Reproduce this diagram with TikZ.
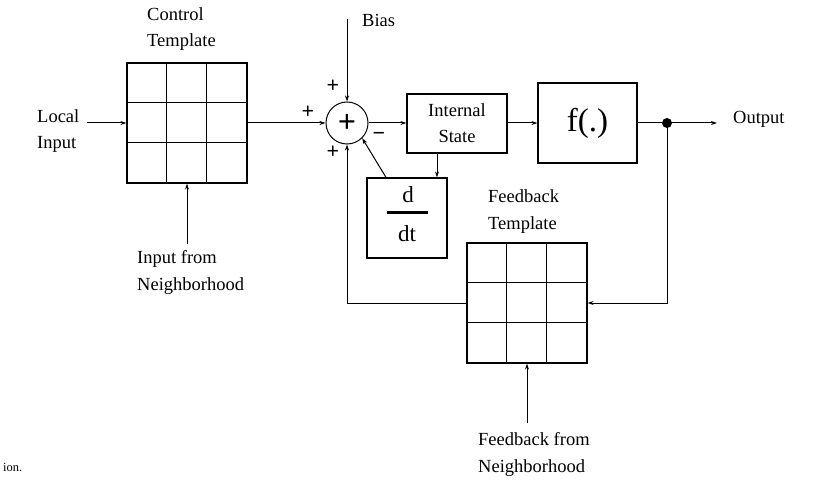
\documentclass[tikz,border=0pt]{standalone}
\usepackage{fontspec}
\setmainfont{Liberation Serif}
\usetikzlibrary{arrows.meta,calc}
\begin{document}
\begin{tikzpicture}[x=1pt,y=-1pt,
  lbl/.style={inner sep=0pt,font=\fontsize{18.5}{22}\selectfont},
  sgn/.style={inner sep=0pt,font=\bfseries\fontsize{22}{24}\selectfont},
  conn/.style={line width=1pt,-{Stealth[length=6pt,width=4pt]}},
  plain/.style={line width=1pt},
  blk/.style={draw,line width=1.2pt,inner sep=0pt},
  tmpl/.style={draw,line width=1.3pt,minimum width=120pt,minimum height=120pt,inner sep=0pt}]
\useasboundingbox (0,0) rectangle (840,486);
\fill[white] (0,0) rectangle (840,486);

% blocks
\node[tmpl] (ctrl) at (187,123) {};
\node[tmpl] (fb) at (527,303) {};
\foreach \g in {ctrl,fb}{
  \foreach \k in {40,80}{
    \draw[line width=1.3pt] ($(\g.north west)+(\k,0)$) -- ($(\g.south west)+(\k,0)$);
    \draw[line width=1.3pt] ($(\g.north west)+(0,\k)$) -- ($(\g.north east)+(0,\k)$);
  }
}
\node[circle,draw,line width=1pt,minimum size=42pt,inner sep=0pt,font=\bfseries\fontsize{32}{32}\selectfont] (sum) at (347,123) {+};
\node[blk,minimum width=100pt,minimum height=59pt] (internal) at (457,123.5) {};
\node[blk,minimum width=99pt,minimum height=80pt,font=\fontsize{33}{33}\selectfont] (f) at (587.5,123) {f(.)};
\node[blk,minimum width=80pt,minimum height=80pt] (ddt) at (407,218) {};
\node[circle,fill,inner sep=0pt,minimum size=10pt] (dot) at (667,123) {};

% d/dt contents
\node[inner sep=0pt,anchor=base,font=\fontsize{23}{23}\selectfont] (dd) at (408,203) {d};
\node[inner sep=0pt,anchor=base,font=\fontsize{23}{23}\selectfont] (dt) at (407,242) {dt};
\draw[line width=3pt] ($(ddt.center)+(-20,-5)$) -- ($(ddt.center)+(21,-5)$);

% labels
\node[lbl,anchor=base west] (lctrl1) at (147,21) {Control};
\node[lbl,anchor=base west] (lctrl2) at (147,47) {Template};
\node[lbl,anchor=base west] (lfb1) at (488,203) {Feedback};
\node[lbl,anchor=base west] (lfb2) at (488,230) {Template};
\node[lbl,anchor=base west] (lin1) at (37,123) {Local};
\node[lbl,anchor=base west] (lin2) at (37,149) {Input};
\node[lbl,anchor=base west] (lnb1) at (137,263) {Input from};
\node[lbl,anchor=base west] (lnb2) at (137,290) {Neighborhood};
\node[lbl,anchor=base west] (lfn1) at (478,445) {Feedback from};
\node[lbl,anchor=base west] (lfn2) at (478,472) {Neighborhood};
\node[lbl,anchor=base west] (lbias) at (362,27) {Bias};
\node[lbl,anchor=base west] (lout) at (733,124) {Output};
\node[lbl,anchor=base] (lint1) at (457,117) {Internal};
\node[lbl,anchor=base] (lint2) at (457,143) {State};
\node[inner sep=0pt,anchor=base west,font=\fontsize{12.5}{14}\selectfont] (lion) at (3,471) {ion.};

% signs
\node[sgn] (ptop) at (333,86) {+};
\node[sgn] (pleft) at (308,112) {+};
\node[sgn] (pbot) at (333,152) {+};
\node[sgn] (mneg) at (379,136) {−};

% free ends
\coordinate (inA) at (87,123);
\coordinate (biasA) at (347,19);
\coordinate (nbA) at (187,244);
\coordinate (fnA) at (527,423);
\coordinate (outB) at (717,123);

% connectors
\draw[conn] (inA) -- (ctrl.west |- inA);
\draw[conn] (ctrl.east |- sum) -- (sum.west);
\draw[conn] (biasA) -- (sum.north);
\draw[conn] (sum.east) -- (internal.west |- sum);
\draw[conn] (internal.east |- sum) -- (f.west |- sum);
\draw[plain] (f.east) -- (dot.center);
\draw[conn] (dot.center) -- (outB);
\draw[conn] (dot.center) |- (fb.east);
\draw[conn] (fb.west) -| (sum.south);
\draw[conn] ([xshift=-20pt]internal.south) -- ([xshift=-20pt]internal.south |- ddt.north);
\draw[conn] ([xshift=-21pt]ddt.north) -- (sum.-45);
\draw[conn] (nbA) -- (ctrl.south);
\draw[conn] (fnA) -- (fb.south);
\end{tikzpicture}
\end{document}
